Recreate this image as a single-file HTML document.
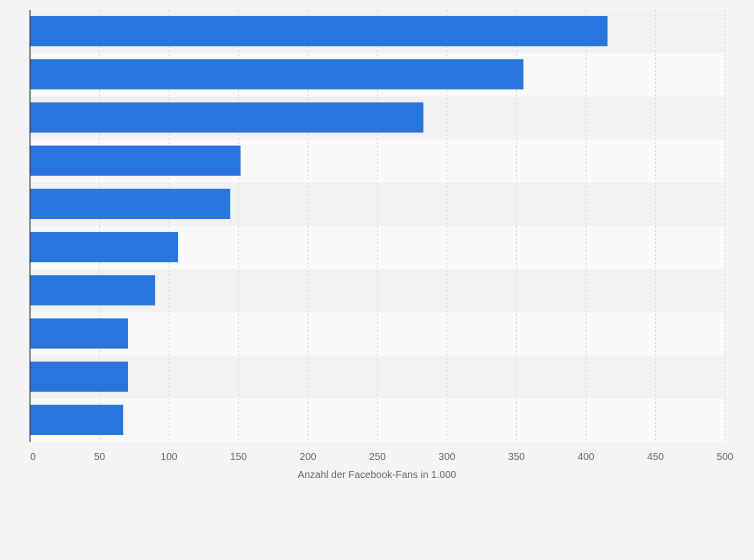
<!DOCTYPE html>
<html><head><meta charset="utf-8"><style>
html,body{margin:0;padding:0;background:#f4f4f4;}
svg{display:block;font-family:"Liberation Sans",sans-serif;}
</style></head><body>
<svg id="chart" width="754" height="560"></svg>
<script>
const categories = ["Kategorie 1","Kategorie 2","Kategorie 3","Kategorie 4","Kategorie 5","Kategorie 6","Kategorie 7","Kategorie 8","Kategorie 9","Kategorie 10"];
const values = [415.5, 355, 283, 151.5, 144, 106.5, 90, 70.5, 70.5, 67];
const ticks = [0,50,100,150,200,250,300,350,400,450,500];
const NS="http://www.w3.org/2000/svg";
const svg=document.getElementById('chart');
const x0=30,x1=725,yTop=10,yBot=442,maxV=500;
const xs=v=>x0+(v/maxV)*(x1-x0);
const rowH=(yBot-yTop)/categories.length;
function mk(t,a){const e=document.createElementNS(NS,t);for(const k in a)e.setAttribute(k,a[k]);svg.appendChild(e);return e;}
categories.forEach((c,i)=>{
  const r=mk('rect',{x:x0,y:yTop+i*rowH,width:x1-x0,height:rowH,fill:i%2===0?'#f1f1f1':'#f9f9f9'});
  
  
});
ticks.forEach(t=>{
  if(t>0){const g=mk('line',{x1:xs(t),x2:xs(t),y1:yTop,y2:yBot,stroke:'#dcdcdc','stroke-dasharray':'2,2'});
  
  }
  const l=mk('text',{x:xs(t)+(t===0?3:0),y:460,'font-size':10,fill:'#666','text-anchor':'middle'});
  l.textContent=t;
  
  
});
values.forEach((v,i)=>{
  const b=mk('rect',{x:x0,y:yTop+i*rowH+6,width:xs(v)-x0,height:rowH-13,fill:'#2876dd'});
  
  
  const tt=document.createElementNS(NS,'title');tt.textContent=categories[i]+': '+v;b.appendChild(tt);
});
const ax=mk('line',{x1:x0,x2:x0,y1:yTop,y2:yBot,stroke:'#333','stroke-width':1});


const xt=mk('text',{x:377,y:478,'font-size':10,fill:'#666','text-anchor':'middle'});
xt.textContent='Anzahl der Facebook-Fans in 1.000';


</script>
</body></html>
